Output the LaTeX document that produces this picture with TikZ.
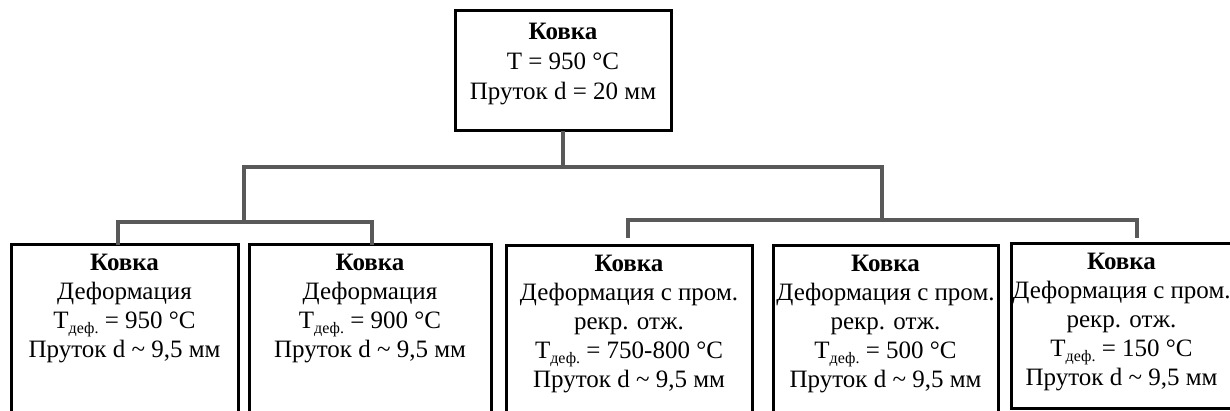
\documentclass[tikz,border=0pt]{standalone}
\usepackage{fontspec}
\setmainfont{Liberation Serif}
\definecolor{linkgray}{RGB}{89,89,89}
% deformation temperature symbol with its lowered index
\newcommand\Tdef{T\raisebox{-4.5pt}{\fontsize{16}{16}\selectfont деф.}}
% top-aligned, centred text block of fixed width and height
\newcommand\cellbox[3]{\parbox[t][#2][t]{#1}{\centering #3}}
% one line centred on the block, overhanging both sides evenly if too long
\newcommand\fitline[1]{\makebox[\linewidth][c]{#1}}
\begin{document}
\begin{tikzpicture}[x=1pt,y=-1pt]
\tikzset{
  box/.style={draw=black, line width=3pt, fill=white, anchor=north,
    outer sep=0pt, inner xsep=0pt, inner ysep=9.5pt,
    font=\fontsize{25}{29}\selectfont},
  link/.style={draw=linkgray, line width=3.5pt},
}
\useasboundingbox (0,0) rectangle (1230,411);
\clip (0,0) rectangle (1230,411);
\fill[white] (0,0) rectangle (1230,411);

% root
\node[box, inner ysep=12pt] (top) at (563,11)
  {\cellbox{216pt}{96pt}{\fontsize{25}{30}\selectfont
   \textbf{Ковка}\\T = 950 °C\\Пруток d = 20 мм}};

% variants
\node[box] (b1) at (124.5,245)
  {\cellbox{227pt}{190pt}{\textbf{Ковка}\\Деформация\\\Tdef{} = 950 °C\\Пруток d \textasciitilde{} 9,5 мм}};
\node[box] (b2) at (370,245)
  {\cellbox{242pt}{190pt}{\textbf{Ковка}\\Деформация\\\Tdef{} = 900 °C\\Пруток d \textasciitilde{} 9,5 мм}};
\node[box] (b3) at (629,246)
  {\cellbox{246pt}{190pt}{\textbf{Ковка}\\Деформация с пром.\\рекр. отж.\\\Tdef{} = 750-800 °C\\Пруток d \textasciitilde{} 9,5 мм}};
\node[box] (b4) at (885.5,246)
  {\cellbox{225pt}{190pt}{\textbf{Ковка}\\Деформация с пром.\\рекр. отж.\\\Tdef{} = 500 °C\\Пруток d \textasciitilde{} 9,5 мм}};
\node[box, minimum width=229pt] (b5) at (1125.5,244)
  {\hspace*{-4pt}\cellbox{196pt}{145pt}{\fitline{\textbf{Ковка}}\\
   \fitline{Деформация с пром.}\\\fitline{рекр. отж.}\\
   \fitline{\Tdef{} = 150 °C}\\\fitline{Пруток d \textasciitilde{} 9,5 мм}}\hspace*{4pt}};

% bus points
\coordinate (sL) at (244,167);
\coordinate (sR) at (882,167);
\coordinate (lL) at (118,222);
\coordinate (lR) at (372,222);
\coordinate (rL) at (628,220);
\coordinate (rR) at (1137,220);
\coordinate (rLend) at (628,238);
\coordinate (rRend) at (1137,238);

% connectors
\draw[link] (top.south) -- (top.south |- sL);
\draw[link] (sL |- lL) -- (sL) -- (sR) -- (sR |- rL);
\draw[link] (b1.north -| lL) -- (lL) -- (lR) -- (b2.north -| lR);
\draw[link] (rLend) -- (rL) -- (rR) -- (rRend);
\end{tikzpicture}
\end{document}
